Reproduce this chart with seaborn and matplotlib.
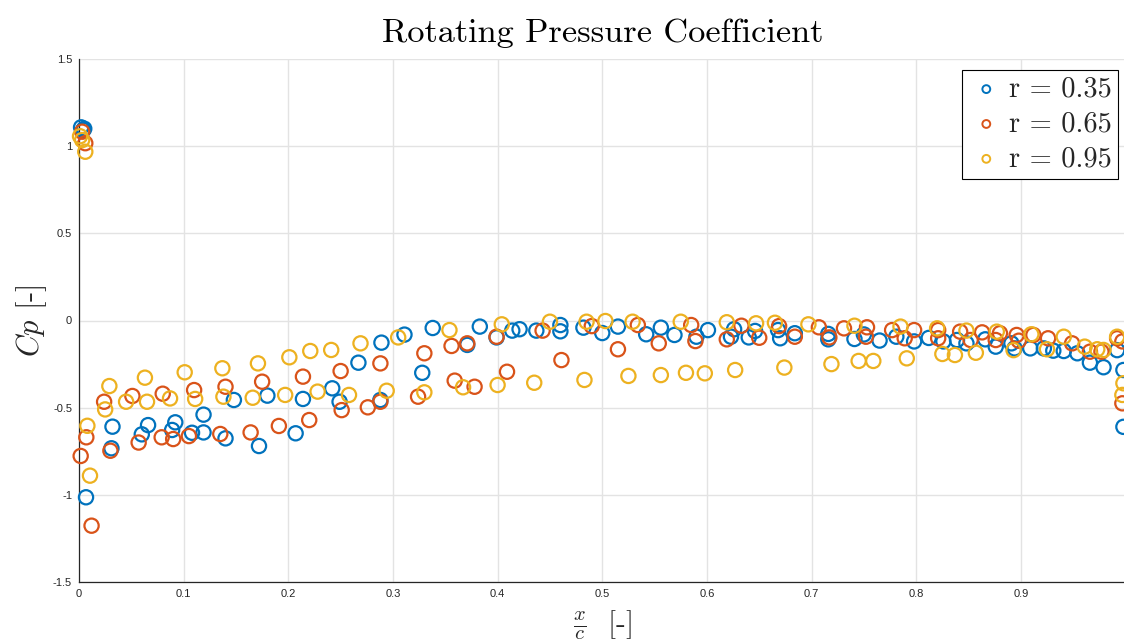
import numpy as np
import pandas as pd
import matplotlib
matplotlib.use("Agg")
import matplotlib.pyplot as plt
import seaborn as sns

# ---- data ----
x_035 = [0.002, 0.004, 0.005, 0.0067, 0.031, 0.032, 0.060, 0.066, 0.089, 0.092,
         0.108, 0.119, 0.119, 0.140, 0.148, 0.172, 0.180, 0.207, 0.214, 0.242,
         0.249, 0.267, 0.288, 0.289, 0.311, 0.328, 0.338, 0.371, 0.383, 0.399,
         0.414, 0.421, 0.437, 0.460, 0.460, 0.482, 0.500, 0.515, 0.542, 0.556,
         0.569, 0.590, 0.601, 0.623, 0.626, 0.640, 0.646, 0.668, 0.670, 0.684,
         0.716, 0.716, 0.741, 0.750, 0.765, 0.781, 0.798, 0.812, 0.826, 0.839,
         0.848, 0.866, 0.876, 0.891, 0.894, 0.909, 0.922, 0.931, 0.941, 0.954,
         0.966, 0.979, 0.992, 0.998, 0.998]
cp_035 = [1.108, 1.093, 1.10, -1.014, -0.733, -0.609, -0.653, -0.60, -0.628, -0.584,
          -0.644, -0.54, -0.642, -0.676, -0.456, -0.72, -0.431, -0.647, -0.45, -0.389,
          -0.466, -0.242, -0.456, -0.127, -0.081, -0.30, -0.043, -0.14, -0.035, -0.097,
          -0.058, -0.05, -0.058, -0.026, -0.062, -0.041, -0.072, -0.035, -0.079, -0.041,
          -0.083, -0.093, -0.055, -0.093, -0.05, -0.097, -0.06, -0.055, -0.102, -0.073,
          -0.077, -0.108, -0.106, -0.08, -0.115, -0.093, -0.12, -0.10, -0.12, -0.112,
          -0.131, -0.108, -0.15, -0.131, -0.16, -0.16, -0.16, -0.173, -0.175, -0.188,
          -0.242, -0.268, -0.17, -0.284, -0.61]

x_065 = [0.003, 0.006, 0.0016, 0.007, 0.012, 0.024, 0.030, 0.051, 0.057, 0.079,
         0.080, 0.090, 0.105, 0.110, 0.135, 0.140, 0.164, 0.175, 0.191, 0.214,
         0.220, 0.250, 0.251, 0.276, 0.288, 0.288, 0.324, 0.330, 0.356, 0.359,
         0.371, 0.378, 0.399, 0.409, 0.443, 0.461, 0.490, 0.515, 0.534, 0.554,
         0.585, 0.589, 0.619, 0.633, 0.650, 0.669, 0.684, 0.707, 0.717, 0.731,
         0.753, 0.752, 0.777, 0.789, 0.798, 0.821, 0.821, 0.842, 0.852, 0.863,
         0.876, 0.880, 0.896, 0.898, 0.912, 0.926, 0.949, 0.966, 0.977, 0.992,
         0.997, 0.997]
cp_065 = [1.083, 1.017, -0.777, -0.67, -1.177, -0.466, -0.747, -0.433, -0.70, -0.67,
          -0.42, -0.68, -0.663, -0.399, -0.651, -0.38, -0.642, -0.351, -0.605, -0.322,
          -0.571, -0.29, -0.514, -0.498, -0.246, -0.466, -0.437, -0.188, -0.146, -0.345,
          -0.131, -0.38, -0.093, -0.294, -0.058, -0.227, -0.032, -0.165, -0.026, -0.131,
          -0.026, -0.118, -0.108, -0.03, -0.099, -0.032, -0.093, -0.039, -0.097, -0.045,
          -0.039, -0.093, -0.055, -0.102, -0.055, -0.055, -0.102, -0.064, -0.112, -0.068,
          -0.112, -0.073, -0.083, -0.116, -0.083, -0.102, -0.131, -0.179, -0.179, -0.102,
          -0.12, -0.475]

x_095 = [0.001, 0.003, 0.006, 0.008, 0.0105, 0.025, 0.029, 0.045, 0.063, 0.065,
         0.087, 0.101, 0.111, 0.137, 0.138, 0.166, 0.171, 0.197, 0.201, 0.221,
         0.228, 0.241, 0.258, 0.269, 0.294, 0.305, 0.330, 0.354, 0.367, 0.400,
         0.404, 0.435, 0.450, 0.483, 0.485, 0.503, 0.525, 0.529, 0.556, 0.575,
         0.580, 0.598, 0.619, 0.627, 0.647, 0.665, 0.674, 0.697, 0.719, 0.741,
         0.745, 0.759, 0.785, 0.791, 0.820, 0.825, 0.837, 0.848, 0.857, 0.877,
         0.893, 0.910, 0.925, 0.941, 0.961, 0.973, 0.979, 0.992, 0.998, 0.997]
cp_095 = [1.057, 1.035, 0.968, -0.604, -0.89, -0.51, -0.376, -0.466, -0.328, -0.466,
          -0.447, -0.297, -0.45, -0.274, -0.437, -0.443, -0.246, -0.427, -0.211, -0.175,
          -0.408, -0.169, -0.427, -0.131, -0.403, -0.097, -0.412, -0.055, -0.383, -0.37,
          -0.022, -0.357, -0.007, -0.341, -0.007, -0.003, -0.318, -0.007, -0.313, -0.007,
          -0.30, -0.303, -0.01, -0.284, -0.016, -0.013, -0.27, -0.022, -0.25, -0.03,
          -0.232, -0.232, -0.035, -0.217, -0.045, -0.192, -0.198, -0.058, -0.185, -0.064,
          -0.17, -0.079, -0.165, -0.093, -0.15, -0.165, -0.169, -0.093, -0.36, -0.427]

series_labels = ["r = 0.35", "r = 0.65", "r = 0.95"]
series_colors = ["#0072BD", "#D95319", "#EDB120"]
x_ticks = [0, 0.1, 0.2, 0.3, 0.4, 0.5, 0.6, 0.7, 0.8, 0.9]
x_tick_labels = ["0", "0.1", "0.2", "0.3", "0.4", "0.5", "0.6", "0.7", "0.8", "0.9"]
y_ticks = [-1.5, -1, -0.5, 0, 0.5, 1, 1.5]
y_tick_labels = ["-1.5", "-1", "-0.5", "0", "0.5", "1", "1.5"]

frames = []
for lab, xs, ys in zip(series_labels, [x_035, x_065, x_095], [cp_035, cp_065, cp_095]):
    frames.append(pd.DataFrame({"x": xs, "cp": ys, "series": lab}))
df = pd.concat(frames, ignore_index=True)

sns.set_theme(style="white")
plt.rcParams["font.family"] = ["Liberation Sans", "DejaVu Sans"]
plt.rcParams["mathtext.fontset"] = "cm"

fig = plt.figure(figsize=(11.24, 6.43), dpi=100)
ax = fig.add_axes([79 / 1124, 61 / 643, (1125.5 - 79) / 1124, 523 / 643])

for lab, col in zip(series_labels, series_colors):
    sub = df[df["series"] == lab]
    sns.scatterplot(data=sub, x="x", y="cp", ax=ax, marker="o", s=105,
                    color=col, facecolors="none", edgecolor=col, linewidth=1.6,
                    label=lab, clip_on=False, zorder=3)

ax.set_xlim(0, 1)
ax.set_ylim(-1.5, 1.5)
ax.set_xticks(x_ticks)
ax.set_xticklabels(x_tick_labels)
ax.set_yticks(y_ticks)
ax.set_yticklabels(y_tick_labels)
ax.grid(True, color="#e3e3e3", linewidth=1.0)
ax.set_axisbelow(True)
for sp in ["top", "right"]:
    ax.spines[sp].set_visible(False)
for sp in ["left", "bottom"]:
    ax.spines[sp].set_color("#262626")
    ax.spines[sp].set_linewidth(0.9)
ax.tick_params(axis="both", direction="in", length=7.5, width=0.8, color="#262626",
               labelsize=8, labelcolor="#262626", pad=5)

ax.set_title("Rotating Pressure Coefficient", fontsize=24.7, pad=12, color="black",
             fontfamily="cmr10")
ax.set_ylabel(r"$Cp$ [-]", fontsize=22, fontfamily="cmr10", labelpad=3)
ax.set_xlabel(r"$\frac{x}{c}$  [-]", fontsize=21, fontfamily="cmr10", labelpad=7)

leg = ax.legend(loc="upper right", bbox_to_anchor=(0.9925, 0.979),
                prop={"family": "cmr10", "size": 20.5},
                frameon=True, fancybox=False, edgecolor="black", framealpha=1,
                borderpad=0.22, labelspacing=0.3, handletextpad=0.15, handlelength=1.26,
                borderaxespad=0, markerscale=0.55)
leg.get_frame().set_linewidth(0.8)
for h in leg.legend_handles:
    h.set_linewidth(1.4)

fig.savefig("out.png", dpi=100)
